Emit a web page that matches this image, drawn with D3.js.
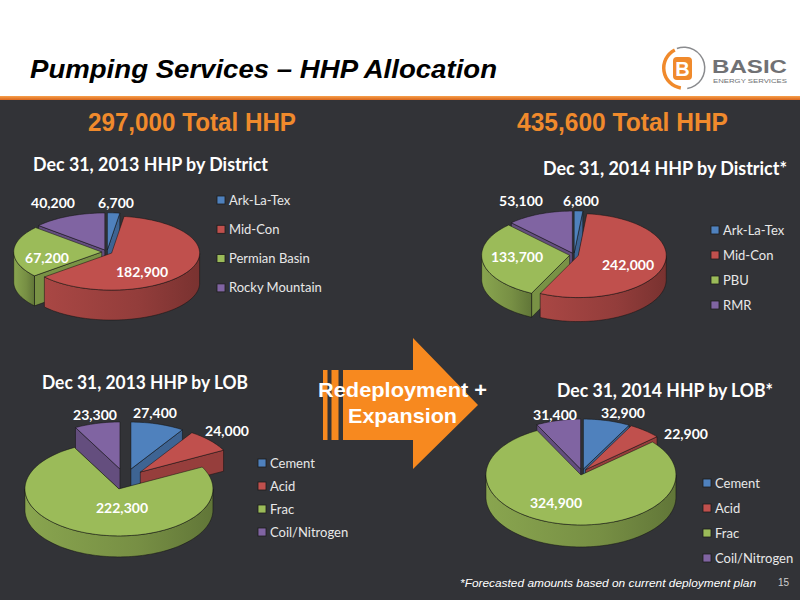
<!DOCTYPE html>
<html lang="en">
<head>
  <meta charset="UTF-8" />
  <title>Pumping Services – HHP Allocation</title>
  <script src="https://d3js.org/d3.v7.min.js"></script>
  <style>
    html, body { margin: 0; padding: 0; background: #323337; }
    svg { display: block; }
  </style>
</head>
<body>
  <svg id="slide" width="800" height="600"></svg>

  <script>
    // ---- data ----
    const districtNames2013 = ["Ark-La-Tex", "Mid-Con", "Permian Basin", "Rocky Mountain"];
    const district2013 = [6700, 182900, 67200, 40200];
    const districtNames2014 = ["Ark-La-Tex", "Mid-Con", "PBU", "RMR"];
    const district2014 = [6800, 242000, 133700, 53100];
    const lobNames = ["Cement", "Acid", "Frac", "Coil/Nitrogen"];
    const lob2013 = [27400, 24000, 222300, 23300];
    const lob2014 = [32900, 22900, 324900, 31400];
    const totalLabels = ["297,000 Total HHP", "435,600 Total HHP"];
    const sliceColors = ["#4f81bd", "#c0504d", "#9bbb59", "#8064a2"];

    const svg = d3.select("#slide");
    const defs = svg.append("defs");
    const fmt = d3.format(",");
    const chartFont = "Lato, 'Open Sans', sans-serif";
    const arialFont = "'Liberation Sans', Arial, sans-serif";

    // background, header, orange rule
    svg.append("rect").attr("width", 800).attr("height", 600).attr("fill", "#323337");
    svg.append("rect").attr("width", 800).attr("height", 96).attr("fill", "#ffffff");
    const rule = defs.append("linearGradient").attr("id", "rule").attr("x1", 0).attr("x2", 0).attr("y1", 0).attr("y2", 1);
    rule.append("stop").attr("offset", 0).attr("stop-color", "#f7a04a");
    rule.append("stop").attr("offset", 1).attr("stop-color", "#d9661c");
    svg.append("rect").attr("y", 96).attr("width", 800).attr("height", 4).attr("fill", "url(#rule)");

    function fitText(sel, width) {
      return sel.attr("textLength", width).attr("lengthAdjust", "spacingAndGlyphs");
    }

    fitText(svg.append("text").attr("x", 30).attr("y", 78)
      .attr("font-family", arialFont).attr("font-size", 25)
      .attr("font-weight", "bold").attr("font-style", "italic").attr("fill", "#000")
      .text("Pumping Services – HHP Allocation"), 467);

    // logo
    const logo = svg.append("g").attr("transform", "translate(684,68)");
    logo.append("path").attr("fill", "#8a8b8e")
      .attr("d", d3.arc().innerRadius(20).outerRadius(21.5).startAngle(-0.35).endAngle(Math.PI * 0.95)());
    logo.append("path").attr("fill", "#f08a2c")
      .attr("d", d3.arc().innerRadius(18.5).outerRadius(22).startAngle(Math.PI * 1.05).endAngle(Math.PI * 1.85)());
    logo.append("rect").attr("x", -11).attr("y", -11).attr("width", 19).attr("height", 23).attr("rx", 4).attr("fill", "#f08a2c");
    logo.append("text").attr("x", -1.5).attr("y", 7.5).attr("text-anchor", "middle")
      .attr("font-family", arialFont).attr("font-weight", "bold").attr("font-size", 20).attr("fill", "#fff").text("B");
    fitText(svg.append("text").attr("x", 712).attr("y", 73)
      .attr("font-family", arialFont).attr("font-weight", "bold").attr("font-size", 18).attr("fill", "#707174")
      .text("BASIC"), 75);
    fitText(svg.append("text").attr("x", 713).attr("y", 83)
      .attr("font-family", arialFont).attr("font-size", 6).attr("fill", "#707174")
      .text("ENERGY  SERVICES"), 74);

    // totals
    [[88, 208], [517, 211]].forEach(([x, w], i) => {
      fitText(svg.append("text").attr("x", x).attr("y", 131)
        .attr("font-family", "'Liberation Sans Narrow', " + arialFont).attr("font-weight", "bold")
        .attr("font-size", 26).attr("fill", "#f08a2c").text(totalLabels[i]), w);
    });

    // wall gradients
    sliceColors.forEach((c, i) => {
      const g = defs.append("linearGradient").attr("id", "wall" + i).attr("x1", 0).attr("x2", 1).attr("y1", 0).attr("y2", 0);
      g.append("stop").attr("offset", 0).attr("stop-color", d3.color(c).darker(0.35));
      g.append("stop").attr("offset", 0.6).attr("stop-color", d3.color(c).darker(0.75));
      g.append("stop").attr("offset", 1).attr("stop-color", d3.color(c).darker(1.3));
    });

    const line = d3.line();

    function pie3d(c, values, names) {
      const g = svg.append("g");
      const arcs = d3.pie().sort(null)(values);

      const pt = (a, r, ox, oy, dz) =>
        [c.cx + ox + r * c.rx * Math.sin(a), c.cy + oy - r * c.ry * Math.cos(a) + dz];
      const rim = (a0, a1, ox, oy, dz) => {
        const n = Math.max(2, Math.ceil((a1 - a0) / 0.03));
        return d3.range(n + 1).map(k => pt(a0 + (a1 - a0) * k / n, 1, ox, oy, dz));
      };

      const slices = arcs.map((d, i) => {
        const mid = (d.startAngle + d.endAngle) / 2;
        return { d, i, mid,
          ox: c.explode * c.rx * Math.sin(mid),
          oy: -c.explode * c.ry * Math.cos(mid) };
      }).sort((a, b) => -Math.cos(a.mid) + Math.cos(b.mid));

      slices.forEach(s => {
        const a0 = s.d.startAngle, a1 = s.d.endAngle, col = sliceColors[s.i];
        const sg = g.append("g").attr("stroke", "rgba(20,20,20,0.75)").attr("stroke-width", 0.7).attr("stroke-linejoin", "round");
        const ctr = pt(0, 0, s.ox, s.oy, 0), ctrB = pt(0, 0, s.ox, s.oy, c.depth);
        const cut = a => [ctr, pt(a, 1, s.ox, s.oy, 0), pt(a, 1, s.ox, s.oy, c.depth), ctrB];
        const cutFill = d3.color(col).darker(0.7);
        if (Math.sin(a0) < -1e-6) sg.append("path").attr("d", line(cut(a0)) + "Z").attr("fill", cutFill);
        if (Math.sin(a1) > 1e-6) sg.append("path").attr("d", line(cut(a1)) + "Z").attr("fill", cutFill);
        const f0 = Math.max(a0, Math.PI / 2), f1 = Math.min(a1, Math.PI * 1.5);
        if (f1 > f0) {
          const pts = rim(f0, f1, s.ox, s.oy, 0).concat(rim(f0, f1, s.ox, s.oy, c.depth).reverse());
          sg.append("path").attr("d", line(pts) + "Z").attr("fill", "url(#wall" + s.i + ")");
        }
        sg.append("path").attr("d", line([ctr].concat(rim(a0, a1, s.ox, s.oy, 0))) + "Z").attr("fill", col);
      });

      // data labels
      arcs.forEach((d, i) => {
        g.append("text").attr("x", c.cx + c.labels[i][0]).attr("y", c.cy + c.labels[i][1])
          .attr("text-anchor", "middle").attr("font-family", chartFont).attr("font-weight", "bold")
          .attr("font-size", 14).attr("fill", "#fff").text(fmt(d.data));
      });

      // title
      fitText(g.append("text").attr("x", c.title[0]).attr("y", c.title[1])
        .attr("font-family", chartFont).attr("font-weight", "bold").attr("font-size", 18)
        .attr("fill", "#fff").text(c.titleText), c.title[2]);

      // legend
      const lg = g.append("g");
      names.forEach((n, i) => {
        const y = c.legend[1] + i * c.legend[2];
        lg.append("rect").attr("x", c.legend[0]).attr("y", y - 4).attr("width", 8).attr("height", 8)
          .attr("fill", sliceColors[i]).attr("stroke", "#1c1c1c").attr("stroke-width", 0.8);
        lg.append("text").attr("x", c.legend[0] + 12).attr("y", y + 4.5)
          .attr("font-family", chartFont).attr("font-size", 13).attr("fill", "#e8e8e8").text(n);
      });
    }

    pie3d({ cx: 107, cy: 252, rx: 88, ry: 37, depth: 30, explode: 0.06,
      labels: [[9, -44], [35, 25], [-60, 11], [-54, -44]],
      title: [33, 171, 235], titleText: "Dec 31, 2013 HHP by District",
      legend: [217, 200, 29.3] }, district2013, districtNames2013);

    pie3d({ cx: 574, cy: 255, rx: 88, ry: 42, depth: 24, explode: 0.05,
      labels: [[7, -49], [54, 15], [-57, 7], [-53, -49]],
      title: [543, 175, 244], titleText: "Dec 31, 2014 HHP by District*",
      legend: [711, 230, 25] }, district2014, districtNames2014);

    pie3d({ cx: 125, cy: 479, rx: 94, ry: 47, depth: 21, explode: 0.22,
      labels: [[30, -61], [102, -43], [-3, 34], [-30, -59]],
      title: [42, 389, 206], titleText: "Dec 31, 2013 HHP by LOB",
      legend: [258, 463, 23] }, lob2013, lobNames);

    pie3d({ cx: 582, cy: 472, rx: 95, ry: 50, depth: 22, explode: 0.06,
      labels: [[41, -54], [104, -33], [-26, 36], [-27, -52]],
      title: [557, 397, 216], titleText: "Dec 31, 2014 HHP by LOB*",
      legend: [703, 483, 25] }, lob2014, lobNames);

    // redeployment arrow
    const arrow = svg.append("g").attr("fill", "#f7891f");
    arrow.append("rect").attr("x", 323).attr("y", 370).attr("width", 4.5).attr("height", 70);
    arrow.append("rect").attr("x", 331.5).attr("y", 370).attr("width", 7).attr("height", 70);
    arrow.append("path").attr("d", "M343,370 H413 V338 L478,405 L413,469 V440 H343 Z");
    [["Redeployment +", 397, 169], ["Expansion", 423, 109]].forEach(([t, y, w]) => {
      fitText(svg.append("text").attr("x", t === "Expansion" ? 348 : 318).attr("y", y)
        .attr("font-family", arialFont).attr("font-weight", "bold").attr("font-size", 21)
        .attr("fill", "#fff").text(t), w);
    });

    // footer
    fitText(svg.append("text").attr("x", 460).attr("y", 587)
      .attr("font-family", arialFont).attr("font-style", "italic").attr("font-size", 11)
      .attr("fill", "#fff").text("*Forecasted amounts based on current deployment plan"), 296);
    svg.append("text").attr("x", 778).attr("y", 586)
      .attr("font-family", arialFont).attr("font-size", 10).attr("fill", "#cfcfcf").text("15");
  </script>
</body>
</html>
